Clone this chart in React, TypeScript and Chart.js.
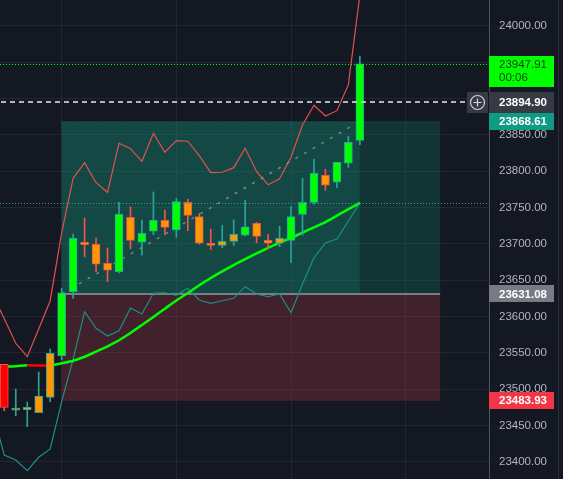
import React, { useEffect, useRef } from "react";
import { Chart, registerables } from "chart.js";

Chart.register(...registerables);

// ---- data ----
const candleIdx = [0, 1, 2, 3, 4, 5, 6, 7, 8, 9, 10, 11, 12, 13, 14, 15, 16, 17, 18, 19, 20, 21, 22, 23, 24, 25, 26, 27, 28, 29, 30, 31];
const opens = [23534.1, 23471.0, 23471.6, 23467.5, 23488.7, 23546.0, 23634.1, 23702.2, 23699.4, 23673.2, 23661.7, 23736.6, 23702.2, 23717.3, 23732.5, 23719.1, 23757.2, 23737.7, 23700.8, 23698.0, 23703.5, 23711.8, 23728.3, 23704.9, 23700.8, 23704.9, 23740.7, 23757.2, 23794.4, 23784.8, 23811.0, 23842.6];
const highs = [23534.1, 23500.1, 23482.2, 23523.5, 23555.2, 23638.8, 23713.6, 23735.6, 23708.1, 23694.3, 23757.2, 23750.8, 23732.9, 23771.4, 23746.6, 23762.8, 23761.4, 23741.8, 23720.5, 23725.6, 23732.9, 23760.4, 23729.7, 23713.2, 23724.2, 23751.7, 23790.3, 23816.5, 23802.7, 23812.3, 23848.1, 23958.7];
const lows = [23470.2, 23463.4, 23448.2, 23467.5, 23482.6, 23540.1, 23625.0, 23682.3, 23661.7, 23647.9, 23659.9, 23693.3, 23684.3, 23712.6, 23712.6, 23709.0, 23718.1, 23699.5, 23692.0, 23694.7, 23697.5, 23711.0, 23701.6, 23693.3, 23696.1, 23674.1, 23711.8, 23754.5, 23773.8, 23777.4, 23805.2, 23836.6];
const closes = [23474.9, 23472.0, 23474.9, 23490.5, 23549.3, 23632.7, 23707.7, 23698.9, 23671.9, 23663.6, 23740.7, 23704.9, 23714.5, 23732.5, 23722.8, 23758.1, 23739.3, 23700.8, 23698.0, 23703.5, 23713.2, 23723.6, 23710.4, 23700.8, 23707.7, 23737.4, 23757.2, 23797.2, 23780.7, 23812.3, 23839.9, 23947.91];
const bodyTone = ["red", "orange", "orange", "orange", "orange", "green", "green", "orange", "orange", "orange", "green", "orange", "green", "green", "orange", "green", "orange", "orange", "orange", "orange", "orange", "green", "orange", "orange", "orange", "green", "green", "green", "orange", "green", "green", "green"];

const lineIdx = [-1, 0, 1, 2, 3, 4, 5, 6, 7, 8, 9, 10, 11, 12, 13, 14, 15, 16, 17, 18, 19, 20, 21, 22, 23, 24, 25, 26, 27, 28, 29, 30, 31];
const upperBand = [23629.6, 23596.8, 23563.1, 23544.6, 23582.8, 23621.7, 23715.0, 23790.3, 23811.8, 23784.2, 23771.0, 23838.5, 23831.1, 23813.7, 23852.3, 23826.1, 23842.1, 23841.3, 23821.4, 23798.0, 23798.6, 23804.9, 23831.6, 23799.4, 23781.5, 23789.7, 23819.6, 23863.7, 23890.8, 23876.1, 23883.4, 23919.2, 24042.7];
const lowerBand = [23467.1, 23409.2, 23402.3, 23387.6, 23406.1, 23417.5, 23482.8, 23541.0, 23606.6, 23583.7, 23573.1, 23580.4, 23611.7, 23603.4, 23631.9, 23632.7, 23629.2, 23638.8, 23622.7, 23618.1, 23621.7, 23625.0, 23641.0, 23631.0, 23627.2, 23631.0, 23605.2, 23644.7, 23680.9, 23701.2, 23706.7, 23731.5, 23756.7];
const maValues = [23530.8, 23531.0, 23531.5, 23532.8, 23532.5, 23532.3, 23535.5, 23539.0, 23544.5, 23551.6, 23558.9, 23567.3, 23577.2, 23588.3, 23599.4, 23610.7, 23622.0, 23632.3, 23642.9, 23653.0, 23662.2, 23670.8, 23678.9, 23686.9, 23694.4, 23701.7, 23708.2, 23715.5, 23722.7, 23730.0, 23738.9, 23747.7, 23756.4];

const priceTicks = [23400, 23450, 23500, 23550, 23600, 23650, 23700, 23750, 23800, 23850, 23900, 23950, 24000];
const timeGridIdx = [5, 15, 25, 35];

const lastPrice = 23947.91;
const countdown = "00:06";
const crossPrice = 23894.9;
const targetPrice = 23868.61;
const entryPrice = 23631.08;
const stopPrice = 23483.93;
const maLastPrice = 23756.4;
const boxStartIdx = 5;
const boxSplitIdx = 31;
const boxEndIdx = 38;
const trendIdx = [5, 31];
const trendPrices = [23631.08, 23868.61];

const X_MIN = -0.375;
const X_MAX = 42.26;
const Y_MIN = 23376.2;
const Y_MAX = 24035.8;

const TONE: Record<string, string> = { green: "#00ff00", orange: "#ff9800", red: "#ff0000" };
const UP = "#26a69a";
const DOWN = "#ef5350";
const BG = "#141823";
const GRID = "#222632";
const FONT = '"Liberation Sans", Arial, sans-serif';

export default function App() {
  const ref = useRef<HTMLCanvasElement | null>(null);

  useEffect(() => {
    if (!ref.current) return;
    const isUp = candleIdx.map((_, i) => closes[i] >= opens[i]);

    const overlay = {
      id: "overlay",
      beforeDraw(chart: any) {
        const { ctx, width, height } = chart;
        ctx.save();
        ctx.fillStyle = BG;
        ctx.fillRect(0, 0, width, height);
        ctx.restore();
      },
      beforeDatasetsDraw(chart: any) {
        const { ctx, chartArea } = chart;
        const xs = chart.scales.x;
        const ys = chart.scales.y;
        ctx.save();
        ctx.beginPath();
        ctx.rect(chartArea.left, chartArea.top, chartArea.right - chartArea.left, chartArea.bottom - chartArea.top);
        ctx.clip();
        const x0 = xs.getPixelForValue(boxStartIdx);
        const x1 = xs.getPixelForValue(boxSplitIdx);
        const x2 = xs.getPixelForValue(boxEndIdx);
        const yT = ys.getPixelForValue(targetPrice);
        const yE = ys.getPixelForValue(entryPrice);
        const yS = ys.getPixelForValue(stopPrice);
        ctx.fillStyle = "rgba(20,163,131,0.35)";
        ctx.fillRect(x0, yT, x1 - x0, yE - yT);
        ctx.fillStyle = "rgba(20,120,97,0.3)";
        ctx.fillRect(x1, yT, x2 - x1, yE - yT);
        ctx.fillStyle = "rgba(173,56,64,0.3)";
        ctx.fillRect(x0, yE, x2 - x0, yS - yE);
        ctx.strokeStyle = "rgba(38,166,154,0.35)";
        ctx.lineWidth = 1;
        ctx.setLineDash([1, 2]);
        ctx.beginPath();
        ctx.moveTo(x0, yT + 0.5);
        ctx.lineTo(x2, yT + 0.5);
        ctx.stroke();
        ctx.setLineDash([]);
        ctx.strokeStyle = "#9598a1";
        ctx.lineWidth = 1.5;
        ctx.beginPath();
        ctx.moveTo(x0, yE);
        ctx.lineTo(x2, yE);
        ctx.stroke();
        ctx.restore();
      },
      afterDatasetsDraw(chart: any) {
        const { ctx, chartArea } = chart;
        const ys = chart.scales.y;
        ctx.save();
        let y = Math.round(ys.getPixelForValue(lastPrice)) + 0.5;
        ctx.strokeStyle = "#00ff00";
        ctx.lineWidth = 1;
        ctx.setLineDash([1, 2]);
        ctx.beginPath();
        ctx.moveTo(chartArea.left, y);
        ctx.lineTo(chartArea.right, y);
        ctx.stroke();
        y = Math.round(ys.getPixelForValue(maLastPrice)) + 0.5;
        ctx.strokeStyle = "#26a69a";
        ctx.beginPath();
        ctx.moveTo(chartArea.left, y);
        ctx.lineTo(chartArea.right, y);
        ctx.stroke();
        y = Math.round(ys.getPixelForValue(crossPrice));
        ctx.strokeStyle = "#e8e9ee";
        ctx.lineWidth = 1.5;
        ctx.setLineDash([5, 4]);
        ctx.beginPath();
        ctx.moveTo(chartArea.left + 1, y);
        ctx.lineTo(chartArea.right - 24, y);
        ctx.stroke();
        ctx.setLineDash([]);
        ctx.restore();
      },
      afterDraw(chart: any) {
        const { ctx, chartArea, height } = chart;
        const ys = chart.scales.y;
        const left = chartArea.right;
        const w = 65;
        const tx = left + 10;
        ctx.save();
        ctx.textBaseline = "middle";
        ctx.textAlign = "left";

        const tag = (price: number, bg: string, h: number, label: string) => {
          const yc = ys.getPixelForValue(price);
          ctx.fillStyle = bg;
          ctx.fillRect(left, Math.round(yc - h / 2), w, h);
          ctx.fillStyle = "#ffffff";
          ctx.font = `bold 11.5px ${FONT}`;
          ctx.fillText(label, tx, yc + 0.5);
        };

        const yl = ys.getPixelForValue(lastPrice);
        ctx.fillStyle = "#00ff00";
        ctx.fillRect(left, Math.round(yl - 8), w, 31);
        ctx.fillStyle = "#0d3a0d";
        ctx.font = `11.5px ${FONT}`;
        ctx.fillText(lastPrice.toFixed(2), tx, yl + 1);
        ctx.fillText(countdown, tx, yl + 14);

        tag(crossPrice, "#363a45", 21, crossPrice.toFixed(2));
        tag(targetPrice, "#0f9a84", 17, targetPrice.toFixed(2));
        tag(entryPrice, "#787b86", 17, entryPrice.toFixed(2));
        tag(stopPrice, "#f23645", 17, stopPrice.toFixed(2));

        const yc = ys.getPixelForValue(crossPrice);
        const bx = chartArea.right - 22;
        ctx.fillStyle = "#363a45";
        ctx.fillRect(bx, Math.round(yc - 10.5), 21, 21);
        const cx = bx + 10.5;
        const cy = Math.round(yc - 10.5) + 10.5;
        ctx.strokeStyle = "#d1d4dc";
        ctx.lineWidth = 1.2;
        ctx.beginPath();
        ctx.arc(cx, cy, 7, 0, Math.PI * 2);
        ctx.stroke();
        ctx.beginPath();
        ctx.moveTo(cx - 4, cy);
        ctx.lineTo(cx + 4, cy);
        ctx.moveTo(cx, cy - 4);
        ctx.lineTo(cx, cy + 4);
        ctx.stroke();

        ctx.strokeStyle = "#2a2e39";
        ctx.lineWidth = 1;
        ctx.beginPath();
        ctx.moveTo(558.5, 0);
        ctx.lineTo(558.5, height);
        ctx.stroke();
        ctx.restore();
      },
    };

    const chart = new Chart(ref.current, {
      type: "bar",
      data: {
        datasets: [
          {
            type: "line",
            label: "upper",
            data: lineIdx.map((x, i) => ({ x, y: upperBand[i] })),
            borderColor: "#e0514f",
            borderWidth: 1.2,
            pointRadius: 0,
            tension: 0,
            order: 6,
          },
          {
            type: "line",
            label: "lower",
            data: lineIdx.map((x, i) => ({ x, y: lowerBand[i] })),
            borderColor: "#1e8f84",
            borderWidth: 1.2,
            pointRadius: 0,
            tension: 0,
            order: 6,
          },
          {
            type: "line",
            label: "trend",
            data: trendIdx.map((x, i) => ({ x, y: trendPrices[i] })),
            borderColor: "rgba(150,152,162,0.75)",
            borderWidth: 1.5,
            borderDash: [3, 7],
            pointRadius: 0,
            order: 5,
          },
          {
            type: "line",
            label: "ma",
            data: lineIdx.map((x, i) => ({ x, y: maValues[i] })),
            borderColor: "#00ff00",
            borderWidth: 2.5,
            pointRadius: 0,
            tension: 0.3,
            segment: {
              borderColor: (c: any) => (c.p1.parsed.y < c.p0.parsed.y ? "#ff0000" : "#00ff00"),
            },
            order: 4,
          },
          {
            type: "bar",
            label: "wick",
            data: candleIdx.map((x, i) => ({ x, y: [lows[i], highs[i]] })),
            backgroundColor: candleIdx.map((_, i) => (isUp[i] ? UP : DOWN)),
            borderWidth: 0,
            barThickness: 1,
            grouped: false,
            order: 3,
          },
          {
            type: "bar",
            label: "body",
            data: candleIdx.map((x, i) => ({ x, y: [opens[i], closes[i]] })),
            backgroundColor: bodyTone.map((t) => TONE[t]),
            borderColor: candleIdx.map((_, i) => (isUp[i] ? UP : DOWN)),
            borderWidth: 1,
            borderSkipped: false,
            barThickness: 8,
            minBarLength: 2,
            grouped: false,
            order: 2,
          },
        ] as any,
      },
      options: {
        animation: false,
        responsive: true,
        maintainAspectRatio: false,
        layout: { padding: 0 },
        plugins: { legend: { display: false }, tooltip: { enabled: false } },
        scales: {
          x: {
            type: "linear",
            min: X_MIN,
            max: X_MAX,
            offset: false,
            afterBuildTicks: (s: any) => {
              s.ticks = timeGridIdx.map((v) => ({ value: v }));
            },
            afterFit: (s: any) => {
              s.height = 0;
              s.paddingLeft = 0;
              s.paddingRight = 0;
              s.paddingTop = 0;
              s.paddingBottom = 0;
            },
            grid: { color: GRID, drawTicks: false, offset: false },
            border: { display: false },
            ticks: { display: false },
          },
          y: {
            type: "linear",
            position: "right",
            min: Y_MIN,
            max: Y_MAX,
            afterBuildTicks: (s: any) => {
              s.ticks = priceTicks.map((v) => ({ value: v }));
            },
            afterFit: (s: any) => {
              s.width = 74;
              s.paddingTop = 0;
              s.paddingBottom = 0;
            },
            grid: { color: GRID, drawTicks: false },
            border: { display: true, color: "#50535e" },
            ticks: {
              color: "#b2b5be",
              padding: 10,
              autoSkip: false,
              font: { family: FONT, size: 11.5 },
              callback: (v: any) => Number(v).toFixed(2),
            },
          },
        } as any,
      },
      plugins: [overlay],
    });

    return () => chart.destroy();
  }, []);

  return (
    <div style={{ position: "fixed", left: 0, top: 0, width: 563, height: 479, background: BG }}>
      <canvas ref={ref} />
    </div>
  );
}
